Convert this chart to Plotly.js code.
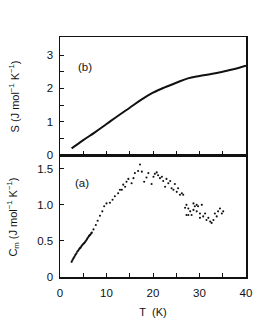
<!DOCTYPE html>
<html>
<head>
<meta charset="utf-8">
<script src="https://cdn.plot.ly/plotly-3.0.1.min.js"></script>
<style>html,body{margin:0;padding:0;background:#fff;}#chart{width:262px;height:328px;}</style>
</head>
<body>
<div id="chart"></div>
<script>
// Entropy S(T), panel (b)
const sT = [2.5, 5, 7.5, 10, 12.5, 15, 17.5, 20, 22.5, 25, 27.5, 30, 32.5, 35, 37.5, 40];
const sVal = [0.2, 0.45, 0.68, 0.93, 1.18, 1.42, 1.66, 1.87, 2.03, 2.17, 2.3, 2.37, 2.43, 2.5, 2.58, 2.68];

// Heat capacity Cm(T), panel (a)
const cT = [2.5, 2.65, 2.8, 2.95, 3.1, 3.25, 3.4, 3.55, 3.7, 3.85, 4.0, 4.15, 4.3, 4.45, 4.6, 4.75, 4.9, 5.05, 5.2, 5.35, 5.5, 5.65, 5.8, 5.95, 6.1, 6.25, 6.4, 6.55, 6.7, 6.85,
  7.2, 7.7, 8.1, 8.6, 9.1, 9.5, 10.0, 10.75, 11.3, 11.8, 12.5, 12.9, 13.3, 13.6, 14.0, 14.3, 14.7, 15.4, 15.8, 16.1, 16.8, 17.2, 17.6,
  18.1, 18.6, 19.0, 19.7, 20.1, 20.4, 20.8, 21.1, 21.5, 21.9, 22.2, 22.6, 22.9, 23.3, 23.7, 24.0, 24.4, 24.7, 25.1, 25.4, 25.8, 26.2, 26.5,
  26.9, 27.2, 27.2, 27.6, 27.6, 28.0, 28.3, 28.7, 28.7, 29.0, 29.4, 29.4, 29.7, 30.1, 30.1, 30.5, 30.8, 31.2, 31.5, 31.9, 32.3, 32.6, 33.0, 33.3, 33.7, 34.0, 34.4, 34.8, 35.1];
const cVal = [0.21, 0.23, 0.25, 0.265, 0.28, 0.3, 0.315, 0.33, 0.35, 0.36, 0.375, 0.39, 0.4, 0.41, 0.425, 0.44, 0.45, 0.46, 0.47, 0.48, 0.495, 0.51, 0.525, 0.54, 0.555, 0.57, 0.58, 0.59, 0.605, 0.615,
  0.66, 0.72, 0.78, 0.85, 0.91, 0.98, 1.02, 1.03, 1.07, 1.12, 1.16, 1.21, 1.21, 1.28, 1.25, 1.32, 1.36, 1.30, 1.37, 1.44, 1.47, 1.56, 1.46,
  1.32, 1.38, 1.44, 1.29, 1.39, 1.43, 1.45, 1.41, 1.37, 1.39, 1.33, 1.25, 1.36, 1.30, 1.33, 1.23, 1.21, 1.29, 1.18, 1.23, 1.14, 1.16, 1.14,
  0.96, 1.0, 0.86, 0.95, 0.86, 0.91, 0.86, 0.93, 1.02, 0.98, 1.0, 0.91, 0.98, 0.88, 0.82, 1.0, 0.84, 0.88, 0.79, 0.82, 0.77, 0.75, 0.79, 0.88, 0.84, 0.91, 0.95, 0.88, 0.91];

const lowTicks = [0, 0.5, 1.0, 1.5];
const lowTickText = ['0', '0.5', '1.0', '1.5'];
const highTicks = [0, 1, 2, 3];
const highTickText = ['0', '1', '2', '3'];
const xTicks = [0, 10, 20, 30, 40];
const xTickText = ['0', '10', '20', '30', '40'];

const FONT = {family: 'Liberation Sans, Arial, sans-serif', size: 11.5, color: '#111'};
const TFONT = {family: 'Liberation Sans, Arial, sans-serif', size: 11, color: '#111'};

const traces = [
  {x: sT, y: sVal, xaxis: 'x2', yaxis: 'y2', mode: 'lines', line: {color: '#111', width: 2, shape: 'spline'}, hoverinfo: 'skip'},
  {x: cT, y: cVal, xaxis: 'x', yaxis: 'y', mode: 'markers', marker: {color: '#111', size: 2.1}, hoverinfo: 'skip'}
];

const axBase = {showline: true, linecolor: '#111', linewidth: 1.5, mirror: true, showgrid: false, zeroline: false,
  ticks: 'inside', ticklen: 4, tickcolor: '#111', tickwidth: 1, tickfont: FONT};

const layout = {
  width: 262, height: 328,
  margin: {l: 60, r: 16, t: 37, b: 51},
  paper_bgcolor: '#fff', plot_bgcolor: '#fff',
  showlegend: false,
  font: FONT,
  xaxis: Object.assign({}, axBase, {domain: [0, 1], anchor: 'y', range: [0, 40], tickvals: xTicks, ticktext: xTickText,
    ticklabelstandoff: 5,
    minor: {ticks: 'inside', tickvals: [5, 15, 25, 35], ticklen: 4, tickcolor: '#111'},
    title: {text: 'T  (K)', font: TFONT, standoff: 10}}),
  xaxis2: Object.assign({}, axBase, {domain: [0, 1], anchor: 'y2', range: [0, 40], matches: 'x', tickvals: [5, 10, 15, 20, 25, 30, 35], showticklabels: false}),
  yaxis: Object.assign({}, axBase, {domain: [0, 0.508], anchor: 'x', range: [0, 1.69], tickvals: lowTicks, ticktext: lowTickText,
    ticklabelstandoff: 3}),
  yaxis2: Object.assign({}, axBase, {domain: [0.508, 1], anchor: 'x2', range: [0, 3.54], tickvals: highTicks, ticktext: highTickText,
    ticklabelstandoff: 3,
    minor: {ticks: 'inside', tickvals: [0.5, 1.5, 2.5], ticklen: 4, tickcolor: '#111'}}),
  annotations: [
    {text: '(b)', x: 5.4, y: 2.64, xref: 'x2', yref: 'y2', showarrow: false, font: FONT},
    {text: '(a)', x: 4.7, y: 1.3, xref: 'x', yref: 'y', showarrow: false, font: FONT},
    {text: 'S (J mol<sup>−1</sup> K<sup>−1</sup>)', x: -0.245, y: 1.77, xref: 'paper', yref: 'y2', textangle: -90,
      xanchor: 'center', yanchor: 'middle', showarrow: false, font: TFONT},
    {text: 'C<sub>m</sub> (J mol<sup>−1</sup> K<sup>−1</sup>)', x: -0.25, y: 0.83, xref: 'paper', yref: 'y', textangle: -90,
      xanchor: 'center', yanchor: 'middle', showarrow: false, font: TFONT}
  ]
};

Plotly.newPlot('chart', traces, layout, {staticPlot: true, displayModeBar: false});
</script>
</body>
</html>
